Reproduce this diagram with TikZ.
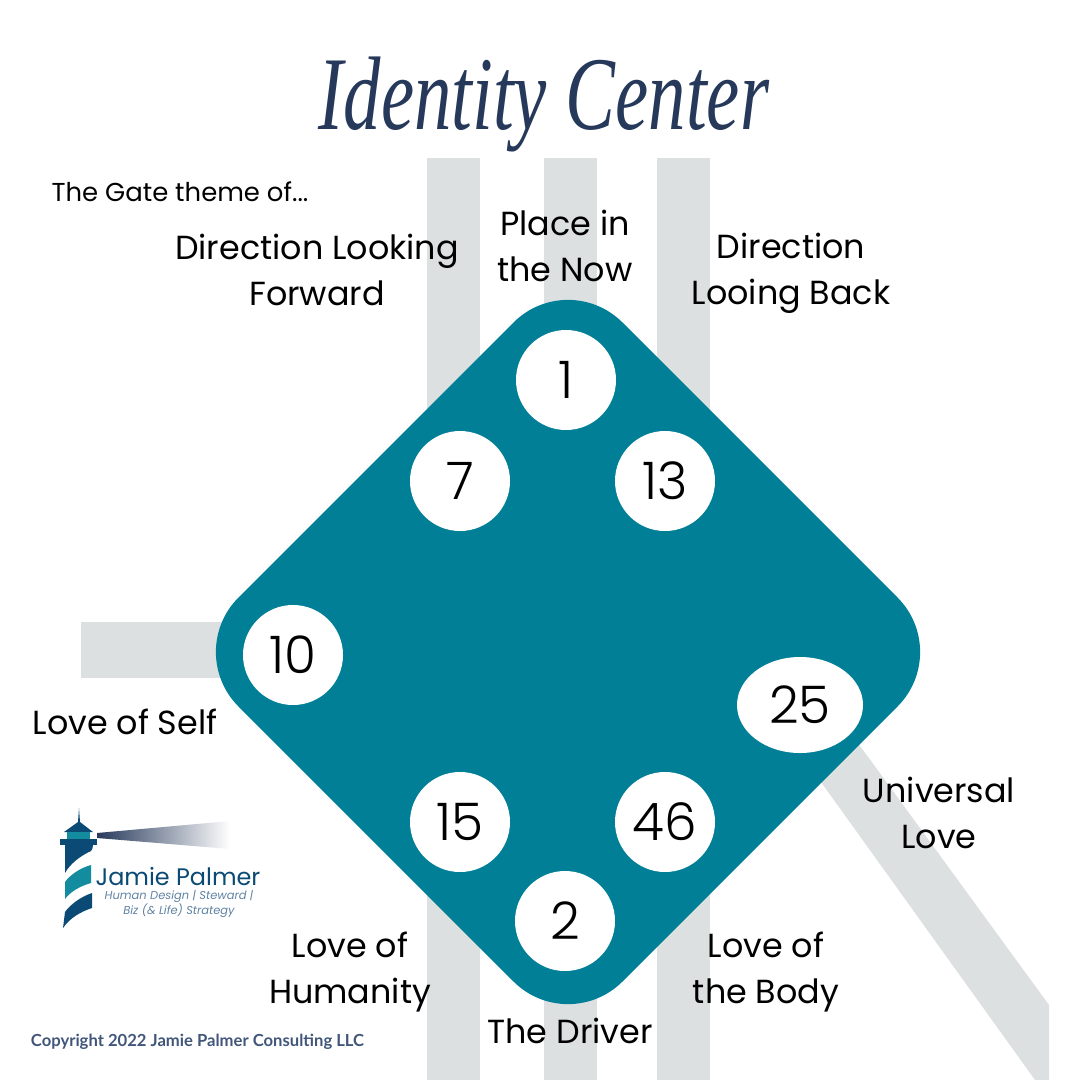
\documentclass[tikz,border=0pt]{standalone}
\usepackage{fontspec}
\usetikzlibrary{shapes.geometric}
\setmainfont{Poppins}
\newfontfamily\gatefont{Poppins Light}
\newfontfamily\titlefont{Liberation Serif}
\newfontfamily\copyfont{Lato}
\definecolor{centerteal}{HTML}{017F97}
\definecolor{bargray}{HTML}{DDE0E1}
\definecolor{titlenavy}{HTML}{27395B}
\definecolor{logonavy}{HTML}{0B4A75}
\definecolor{logoteal}{HTML}{128C9E}
\definecolor{logoblue}{HTML}{5F82A3}
\definecolor{copyblue}{HTML}{41567A}
\tikzset{
  gate/.style={circle,fill=white,text=black,inner sep=0pt,minimum size=100bp,font=\gatefont\fontsize{52}{52}\selectfont},
  theme/.style={align=center,text=black,inner sep=0pt,font=\fontsize{33.5}{46}\selectfont},
  bar/.style={fill=bargray,draw=none}
}
\begin{document}
\begin{tikzpicture}[x=1bp,y=-1bp]
  \useasboundingbox (0,0) rectangle (1080,1080);
  % channels behind the center
  \foreach \x in {427,544,657}
    \fill[bar] (\x,158) rectangle (\x+53,1080);
  \fill[bar] (81,622) rectangle (260,678);
  \fill[bar] (820,691) -- (1049,1005) -- (1049,1080) -- (1035,1080) -- (780,725) -- cycle;
  % the center
  \fill[centerteal,rounded corners=77bp] (568,268) -- (952,652) -- (568,1036) -- (184,652) -- cycle;
  \foreach \nm/\x/\y/\num in {one/566/380/1,seven/460/481/7,thirteen/665/481/13,ten/293/655/10,fifteen/460/822/15,fortysix/665/822/46,two/565/921/2}
    \node[gate] (g\nm) at (\x,\y) {\num}; % gate and its number
  \node[gate,ellipse,minimum width=126bp,minimum height=96bp] (gtwentyfive) at (800,705) {25};
  % title and themes
  \node[text=titlenavy,inner sep=0pt,font=\titlefont\itshape\fontsize{75}{75}\selectfont] (title) at (544,104) {\scalebox{1}[1.4]{Identity Center}};
  \node[text=black,inner sep=0pt,font=\fontsize{26}{30}\selectfont] (intro) at (180,192) {The Gate theme of...};
  \node[theme] (forward) at (317,270) {Direction Looking\\Forward};
  \node[theme] (now) at (565,246) {Place in\\the Now};
  \node[theme] (back) at (791,273) {Direction\\Looing Back};
  \node[theme] (self) at (125,722) {Love of Self};
  \node[theme] (universal) at (939,813) {Universal\\Love};
  \node[theme] (humanity) at (350,972) {Love of\\Humanity};
  \node[theme] (body) at (766,972) {Love of\\the Body};
  \node[theme] (driver) at (570,1031) {The Driver};
  \node[text=copyblue,inner sep=0pt,font=\copyfont\bfseries\fontsize{16.7}{18}\selectfont] (copy) at (197.5,1042) {Copyright 2022 Jamie Palmer Consulting LLC};
  % lighthouse
  \shade[left color=titlenavy,right color=white] (97,833) -- (230,821) -- (230,849) -- (97,838) -- cycle;
  \fill[logonavy] (79,808) -- (80,822) -- (93,832) -- (64,832) -- (78,822) -- cycle;
  \fill[logoteal] (67,832) rectangle (90,840);
  \fill[logonavy] (60,839) rectangle (97,845);
  \fill[logonavy] (65,845) -- (93,845) .. controls (93,848) and (92,850) .. (91,851) .. controls (80,856) and (70,864) .. (65,873) -- cycle;
  \fill[logoteal] (91,865) -- (91,883) .. controls (80,886) and (70,892) .. (65,899) -- (65,882) .. controls (70,875) and (80,868) .. (91,865) -- cycle;
  \fill[logonavy] (92,893) -- (92,908) .. controls (80,912) and (70,918) .. (63,928) -- (65,912) .. controls (70,905) and (80,897) .. (92,893) -- cycle;
  \node[text=logonavy,inner sep=0pt,font=\fontsize{24}{24}\selectfont] (jamie) at (178,876) {Jamie Palmer};
  \node[text=logoblue,inner sep=0pt,align=center,font=\itshape\fontsize{11.5}{15}\selectfont] (steward) at (179,904) {Human Design | Steward |\\Biz (\& Life) Strategy};
\end{tikzpicture}
\end{document}
